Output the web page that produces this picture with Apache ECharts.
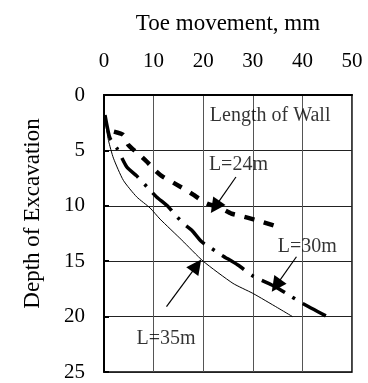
<!DOCTYPE html>
<html>
<head>
<meta charset="utf-8">
<script src="https://cdn.jsdelivr.net/npm/echarts@6/dist/echarts.min.js"></script>
<style>
  html, body { margin: 0; padding: 0; background: #fff; }
  #chart { width: 368px; height: 383px; }
</style>
</head>
<body>
<div id="chart"></div>
<script>
// Toe movement (mm) against depth of excavation (m) for three wall lengths
const wall24 = [[2.0, 3.3], [3.9, 3.6], [4.9, 4.5], [6.9, 5.3], [8.6, 6.0], [10.3, 6.8],
  [11.6, 7.3], [14.3, 8.0], [17.0, 8.7], [18.0, 9.0], [20.7, 9.8], [23.0, 10.1],
  [25.7, 10.7], [27.0, 10.85], [30.8, 11.3], [35.1, 11.9]];
const wall30 = [[0.2, 1.8], [1.2, 3.9], [2.6, 4.8], [4.6, 6.5], [6.6, 7.3], [9.3, 8.6],
  [10.6, 9.2], [13.0, 10.1], [14.3, 10.8], [16.3, 11.7], [17.7, 12.2], [19.7, 13.25],
  [21.7, 13.85], [23.7, 14.45], [27.0, 15.35], [30.1, 16.35], [34.5, 17.3], [37.8, 18.2],
  [40.0, 18.8], [45.0, 20.0]];
const wall35 = [[0.0, 1.8], [0.2, 2.3], [0.9, 4.1], [1.9, 5.7], [3.9, 7.7], [6.6, 9.2],
  [9.3, 10.2], [11.3, 11.2], [15.7, 13.1], [20.0, 15.0], [26.0, 17.0], [30.0, 17.9],
  [35.0, 19.2], [38.0, 20.0]];

// Annotation text and where it sits (mm, depth)
const noteText = ['Length of Wall', 'L=24m', 'L=30m', 'L=35m'];
const notePos = [[33.5, 1.9], [27.1, 6.3], [41.0, 13.7], [12.5, 22.0]];

// Leader arrows: from the label towards its curve
const arrows = [
  [[26.6, 7.4], [22.4, 10.1]],
  [[38.8, 14.6], [34.7, 17.2]],
  [[12.6, 19.1], [18.7, 15.4]]
];

const serif = "'Liberation Serif', 'Times New Roman', serif";
const chart = echarts.init(document.getElementById('chart'), null, { renderer: 'canvas' });

chart.setOption({
  animation: false,
  backgroundColor: '#fff',
  grid: {
    left: 104, top: 95, right: 16, bottom: 11,
    show: true, borderColor: '#000', borderWidth: 1.5, backgroundColor: 'transparent'
  },
  xAxis: {
    type: 'value', position: 'top', min: 0, max: 50, interval: 10,
    name: 'Toe movement, mm', nameLocation: 'middle', nameGap: 60,
    nameTextStyle: { fontFamily: serif, fontSize: 23, color: '#000' },
    axisLine: { show: true, lineStyle: { color: '#000', width: 2 } },
    axisTick: { show: false },
    axisLabel: { fontFamily: serif, fontSize: 21, color: '#000', margin: 23 },
    splitLine: { show: true, lineStyle: { color: '#555', width: 1 } }
  },
  yAxis: {
    type: 'value', inverse: true, min: 0, max: 25, interval: 5,
    name: 'Depth of Excavation', nameLocation: 'middle', nameGap: 60, nameRotate: 90,
    nameTextStyle: { fontFamily: serif, fontSize: 23, color: '#000', padding: [0, 0, 0, 40] },
    axisLine: { show: true, lineStyle: { color: '#000', width: 2 } },
    axisTick: { show: true, inside: true, length: 5, lineStyle: { color: '#000', width: 2 } },
    axisLabel: { fontFamily: serif, fontSize: 21, color: '#000', margin: 19 },
    splitLine: { show: true, lineStyle: { color: '#222', width: 1 } }
  },
  series: [
    {
      name: 'L=24m', type: 'line', data: wall24, smooth: 0.2, symbol: 'none',
      lineStyle: { color: '#000', width: 4.5, type: [10, 10] }
    },
    {
      name: 'L=30m', type: 'line', data: wall30, smooth: 0.2, symbol: 'none',
      lineStyle: { color: '#000', width: 3.5, type: [26, 9, 3, 9] }
    },
    {
      name: 'L=35m', type: 'line', data: wall35, smooth: 0.2, symbol: 'none',
      lineStyle: { color: '#000', width: 1 }
    },
    {
      type: 'lines', coordinateSystem: 'cartesian2d', silent: true,
      symbol: ['none', 'triangle'], symbolSize: [12, 15],
      lineStyle: { color: '#000', width: 1.2, opacity: 1 },
      data: arrows.map(c => ({ coords: c }))
    },
    {
      type: 'scatter', symbolSize: 0, silent: true,
      data: noteText.map((t, i) => ({ name: t, value: notePos[i] })),
      label: {
        show: true, position: 'inside', formatter: p => p.name,
        fontFamily: serif, fontSize: 20, color: '#000'
      }
    }
  ]
});
</script>
</body>
</html>
